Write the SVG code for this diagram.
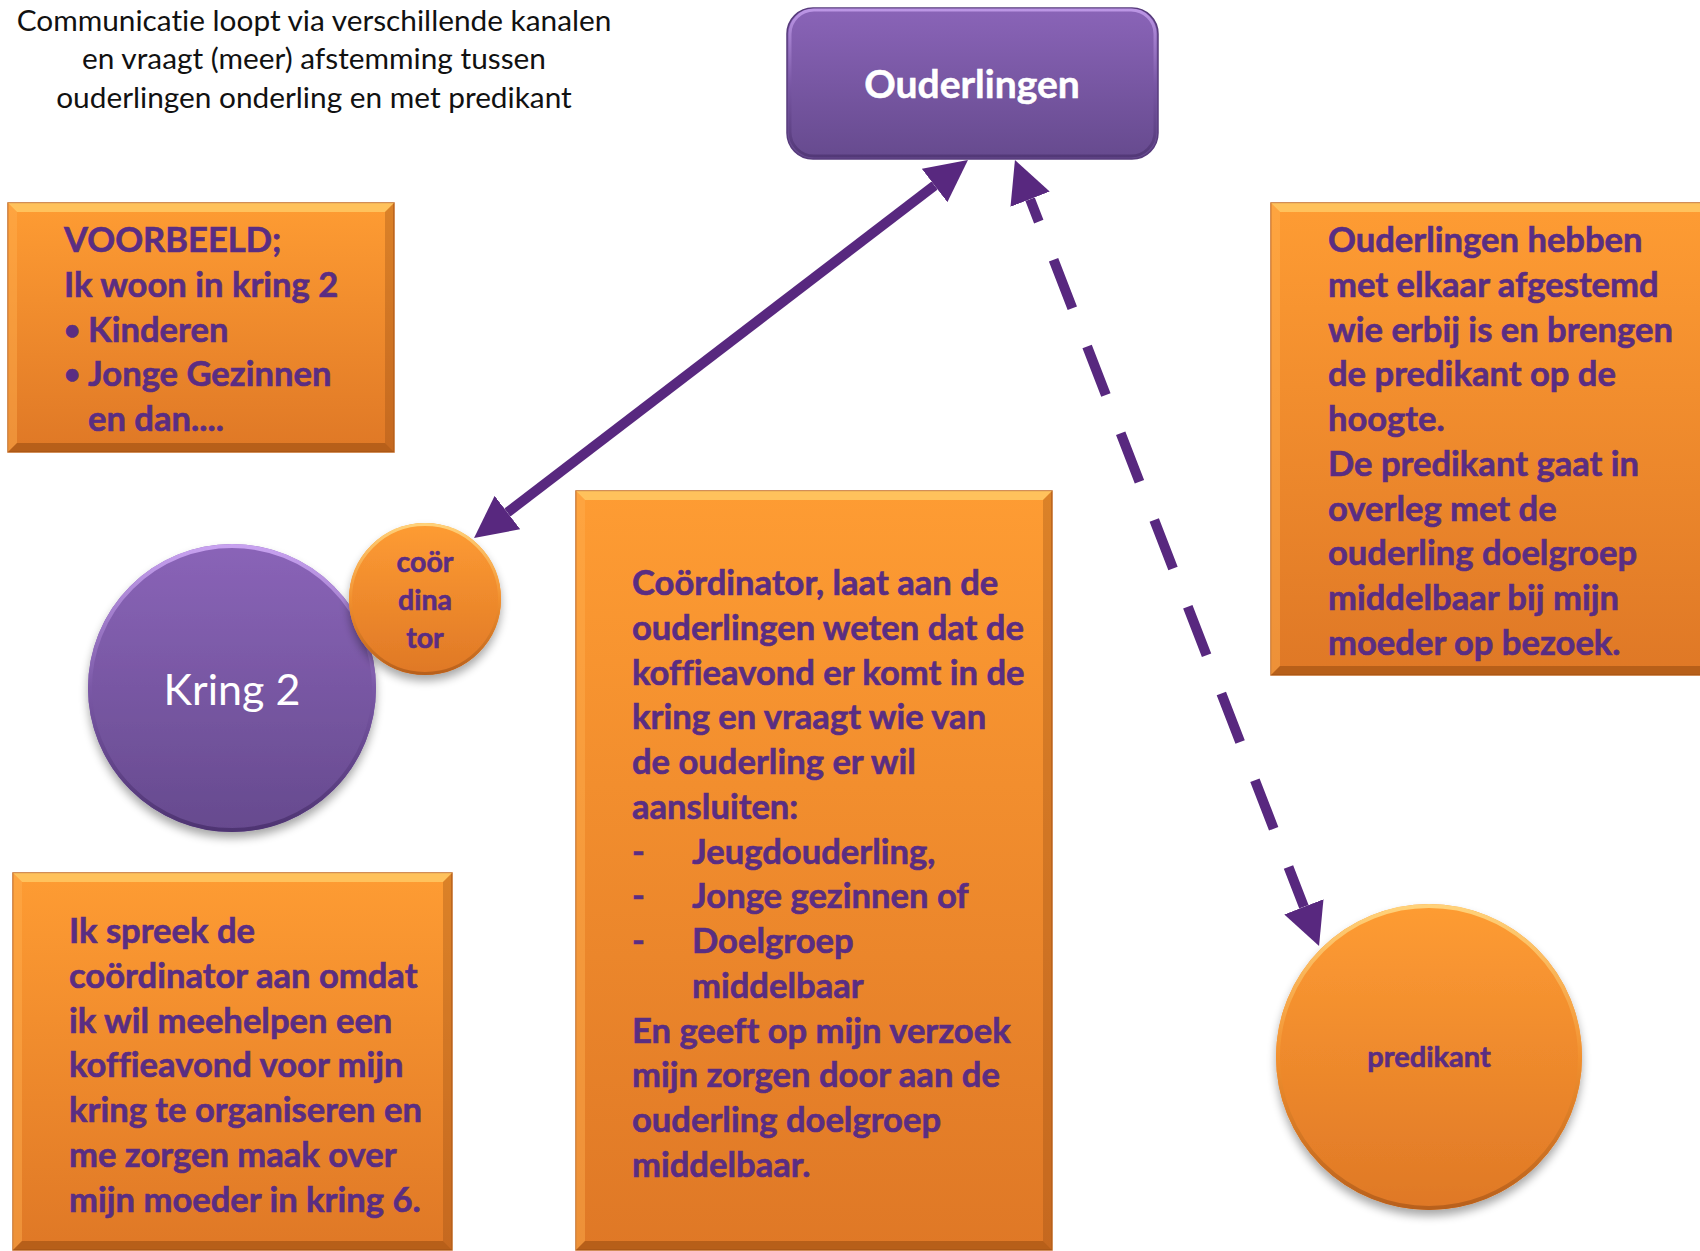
<svg xmlns="http://www.w3.org/2000/svg" width="1700" height="1251" viewBox="0 0 1700 1251">
<defs>
<linearGradient id="gOrange" x1="0" y1="0" x2="0" y2="1">
<stop offset="0" stop-color="#fe9c33"/>
<stop offset="1" stop-color="#df7826"/>
</linearGradient>
<linearGradient id="gPurple" x1="0" y1="0" x2="0" y2="1">
<stop offset="0" stop-color="#8a64b8"/>
<stop offset="1" stop-color="#664a8e"/>
</linearGradient>
<linearGradient id="gRimP" x1="0" y1="0" x2="0" y2="1">
<stop offset="0" stop-color="#c8a2f0"/>
<stop offset="0.5" stop-color="#7a58a6"/>
<stop offset="1" stop-color="#4e3472"/>
</linearGradient>
<linearGradient id="gRimO" x1="0" y1="0" x2="0" y2="1">
<stop offset="0" stop-color="#ffd27a"/>
<stop offset="0.5" stop-color="#f2902e"/>
<stop offset="1" stop-color="#b8601c"/>
</linearGradient>
<filter id="shadow" x="-20%" y="-20%" width="140%" height="150%">
<feGaussianBlur in="SourceAlpha" stdDeviation="5"/>
<feOffset dx="0" dy="6" result="b"/>
<feComponentTransfer><feFuncA type="linear" slope="0.35"/></feComponentTransfer>
<feMerge><feMergeNode/><feMergeNode in="SourceGraphic"/></feMerge>
</filter>
<marker id="head" viewBox="0 -21 42 42" refX="0" refY="0" markerWidth="42" markerHeight="42" markerUnits="userSpaceOnUse" orient="auto-start-reverse">
<path d="M0,-21 L42,0 L0,21 z" fill="#58287f"/>
</marker>
</defs>
<style>
text{font-variant-ligatures:none}
.box{fill:url(#gOrange);stroke:#c46a22;stroke-width:1.5}
.bt{fill:#ffd36e;opacity:0.7}
.bl{fill:#ffb050;opacity:0.45}
.br{fill:#8a4510;opacity:0.3}
.bb{fill:#7a3a08;opacity:0.4}
.t{font-family:Lato,'Open Sans','Liberation Sans',sans-serif;font-weight:700;font-size:34.6px;fill:#5a2d82;stroke:#5a2d82;stroke-width:0.6px}
.bul{font-size:28px}
.title{font-family:Lato,'Open Sans','Liberation Sans',sans-serif;font-size:29.8px;fill:#111111;text-anchor:middle}
.conn{fill:none;stroke:#58287f;stroke-width:10}
</style>

<g id="title">
<text class="title" x="314" y="31">Communicatie loopt via verschillende kanalen</text>
<text class="title" x="314" y="69">en vraagt (meer) afstemming tussen</text>
<text class="title" x="314" y="108">ouderlingen onderling en met predikant</text>
</g>

<g id="ouderlingen">
<rect x="787" y="8" width="371" height="151" rx="26" fill="url(#gPurple)" stroke="#573b7c" stroke-width="1.5"/>
<rect x="790" y="10" width="365" height="146" rx="24" fill="none" stroke="url(#gRimP)" stroke-width="3" opacity="0.8"/>
<text x="972" y="98" text-anchor="middle" font-family="Lato,'Open Sans',sans-serif" font-weight="700" font-size="39" fill="#ffffff" stroke="#ffffff" stroke-width="0.5">Ouderlingen</text>
</g>

<g id="voorbeeld">
<rect class="box" x="8" y="203" width="386" height="249"/>
<polygon class="bt" points="8,203 394,203 385,212 17,212"/>
<polygon class="bl" points="8,203 17,212 17,443 8,452"/>
<polygon class="br" points="394,203 394,452 385,443 385,212"/>
<polygon class="bb" points="8,452 17,443 385,443 394,452"/>
<text class="t" x="64" y="252">VOORBEELD;</text>
<text class="t" x="64" y="297">Ik woon in kring 2</text>
<text class="t bul" x="64" y="340">•</text><text class="t" x="88" y="342">Kinderen</text>
<text class="t bul" x="64" y="384">•</text><text class="t" x="88" y="386">Jonge Gezinnen</text>
<text class="t" x="88" y="431">en dan....</text>
</g>

<g id="afgestemd">
<rect class="box" x="1271" y="203" width="450" height="472"/>
<polygon class="bt" points="1271,203 1721,203 1712,212 1280,212"/>
<polygon class="bl" points="1271,203 1280,212 1280,666 1271,675"/>
<polygon class="bb" points="1271,675 1280,666 1712,666 1721,675"/>
<text class="t" x="1328" y="252">Ouderlingen hebben</text>
<text class="t" x="1328" y="297">met elkaar afgestemd</text>
<text class="t" x="1328" y="342">wie erbij is en brengen</text>
<text class="t" x="1328" y="386">de predikant op de</text>
<text class="t" x="1328" y="431">hoogte.</text>
<text class="t" x="1328" y="476">De predikant gaat in</text>
<text class="t" x="1328" y="521">overleg met de</text>
<text class="t" x="1328" y="565">ouderling doelgroep</text>
<text class="t" x="1328" y="610">middelbaar bij mijn</text>
<text class="t" x="1328" y="655">moeder op bezoek.</text>
</g>

<g id="coordinator-tekst">
<rect class="box" x="576" y="491" width="476" height="759"/>
<polygon class="bt" points="576,491 1052,491 1043,500 585,500"/>
<polygon class="bl" points="576,491 585,500 585,1241 576,1250"/>
<polygon class="br" points="1052,491 1052,1250 1043,1241 1043,500"/>
<polygon class="bb" points="576,1250 585,1241 1043,1241 1052,1250"/>
<text class="t" x="632" y="595">Coördinator, laat aan de</text>
<text class="t" x="632" y="640">ouderlingen weten dat de</text>
<text class="t" x="632" y="685">koffieavond er komt in de</text>
<text class="t" x="632" y="729">kring en vraagt wie van</text>
<text class="t" x="632" y="774">de ouderling er wil</text>
<text class="t" x="632" y="819">aansluiten:</text>
<text class="t" x="632" y="864">-</text><text class="t" x="692" y="864">Jeugdouderling,</text>
<text class="t" x="632" y="908">-</text><text class="t" x="692" y="908">Jonge gezinnen of</text>
<text class="t" x="632" y="953">-</text><text class="t" x="692" y="953">Doelgroep</text>
<text class="t" x="692" y="998">middelbaar</text>
<text class="t" x="632" y="1043">En geeft op mijn verzoek</text>
<text class="t" x="632" y="1087">mijn zorgen door aan de</text>
<text class="t" x="632" y="1132">ouderling doelgroep</text>
<text class="t" x="632" y="1177">middelbaar.</text>
</g>

<g id="ik-spreek">
<rect class="box" x="13" y="873" width="439" height="377"/>
<polygon class="bt" points="13,873 452,873 443,882 22,882"/>
<polygon class="bl" points="13,873 22,882 22,1241 13,1250"/>
<polygon class="br" points="452,873 452,1250 443,1241 443,882"/>
<polygon class="bb" points="13,1250 22,1241 443,1241 452,1250"/>
<text class="t" x="69" y="943">Ik spreek de</text>
<text class="t" x="69" y="988">coördinator aan omdat</text>
<text class="t" x="69" y="1033">ik wil meehelpen een</text>
<text class="t" x="69" y="1077">koffieavond voor mijn</text>
<text class="t" x="69" y="1122">kring te organiseren en</text>
<text class="t" x="69" y="1167">me zorgen maak over</text>
<text class="t" x="69" y="1212">mijn moeder in kring 6.</text>
</g>

<g id="kring2">
<circle cx="232" cy="688" r="144" fill="url(#gPurple)" filter="url(#shadow)"/>
<circle cx="232" cy="688" r="142" fill="none" stroke="url(#gRimP)" stroke-width="4"/>
<text x="232" y="705" text-anchor="middle" font-family="Lato,'Open Sans',sans-serif" font-size="43" fill="#ffffff">Kring 2</text>
</g>

<g id="coordinator">
<circle cx="425" cy="599" r="76" fill="url(#gOrange)" filter="url(#shadow)"/>
<circle cx="425" cy="599" r="74.5" fill="none" stroke="url(#gRimO)" stroke-width="3"/>
<text x="425" y="572" text-anchor="middle" class="t" style="font-size:28.5px">coör</text>
<text x="425" y="610" text-anchor="middle" class="t" style="font-size:28.5px">dina</text>
<text x="425" y="648" text-anchor="middle" class="t" style="font-size:28.5px">tor</text>
</g>

<g id="predikant">
<circle cx="1429" cy="1057" r="153" fill="url(#gOrange)" filter="url(#shadow)"/>
<circle cx="1429" cy="1057" r="151" fill="none" stroke="url(#gRimO)" stroke-width="4"/>
<text x="1429" y="1067" text-anchor="middle" class="t" style="font-size:29px">predikant</text>
</g>

<g id="connectors">
<line class="conn" x1="934.6" y1="185.5" x2="507.4" y2="512.5" stroke-width="9" marker-start="url(#head)" marker-end="url(#head)"/>
<line class="conn" x1="1030.1" y1="199.2" x2="1303.9" y2="906.8" stroke-dasharray="52 41" stroke-dashoffset="28" marker-start="url(#head)" marker-end="url(#head)"/>
</g>
</svg>
